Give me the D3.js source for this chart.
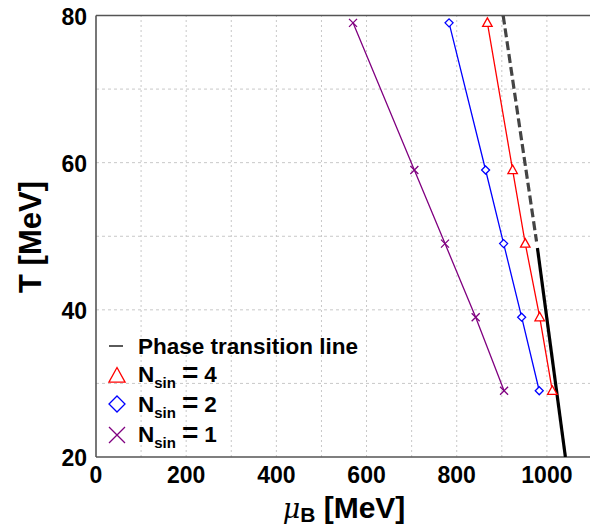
<!DOCTYPE html>
<html>
<head>
<meta charset="utf-8">
<script src="https://cdn.jsdelivr.net/npm/d3@7"></script>
<style>
    body { margin: 0; background: #fff; }
    svg { display: block; }
</style>
</head>
<body>
<svg id="chart" width="590" height="529"></svg>
<script>
'use strict';
// Freeze-out points per sine count (T in MeV, mu_B in MeV)
var tValues = [79, 59, 49, 39, 29];
var muNsin4 = [868, 924, 952, 984, 1012];
var muNsin2 = [783, 864, 904, 944, 983];
var muNsin1 = [570, 706, 774, 842, 905];
// Phase transition line: dashed upper piece, solid lower piece
var phaseDashedMu = [903, 977];
var phaseDashedT = [80, 49.3];
var phaseSolidMu = [979, 1041];
var phaseSolidT = [48.4, 20];
var xTicks = [0, 200, 400, 600, 800, 1000];
var yTicks = [20, 40, 60, 80];
var legendLabels = ['4', '2', '1'];

var svg = d3.select('#chart');
var x = d3.scaleLinear().domain([0, 1100]).range([96, 592]);
var y = d3.scaleLinear().domain([20, 80]).range([457, 15.5]);
var tickFont = '"Liberation Sans", Arial, sans-serif';

svg.append('defs').append('clipPath').attr('id', 'plot-clip')
    .append('rect')
    .attr('x', x(0)).attr('y', y(80))
    .attr('width', x(1100) - x(0)).attr('height', y(20) - y(80));

// Grid lines every 100 MeV / 10 MeV
var grid = svg.append('g').attr('class', 'grid');
grid.selectAll('line.gx').data(d3.range(100, 1100, 100)).enter().append('line')
    .attr('x1', function(d) { return x(d); }).attr('x2', function(d) { return x(d); })
    .attr('y1', y(20)).attr('y2', y(80))
    .style('stroke', '#c8c8c8').style('stroke-width', 1).style('stroke-dasharray', '2,3');
grid.selectAll('line.gy').data(d3.range(30, 80, 10)).enter().append('line')
    .attr('y1', function(d) { return y(d); }).attr('y2', function(d) { return y(d); })
    .attr('x1', x(0)).attr('x2', x(1100))
    .style('stroke', '#c8c8c8').style('stroke-width', 1).style('stroke-dasharray', '3,3');

// Frame (left, bottom, top)
var frame = svg.append('g').attr('class', 'frame');
frame.append('line').attr('x1', x(0)).attr('x2', x(0)).attr('y1', y(20)).attr('y2', y(80));
frame.append('line').attr('x1', x(0)).attr('x2', x(1100)).attr('y1', y(20)).attr('y2', y(20));
frame.append('line').attr('x1', x(0)).attr('x2', x(1100)).attr('y1', y(80)).attr('y2', y(80));
frame.selectAll('line').style('stroke', '#555').style('stroke-width', 1.6);

// Tick labels
svg.append('g').selectAll('text').data(xTicks).enter().append('text')
    .attr('x', function(d) { return x(d); })
    .attr('y', 483)
    .attr('text-anchor', 'middle')
    .style('font-family', tickFont).style('font-weight', 'bold').style('font-size', '23px')
    .text(function(d) { return d; });
svg.append('g').selectAll('text').data(yTicks).enter().append('text')
    .attr('x', 87)
    .attr('y', function(d) { return y(d) + 9; })
    .attr('text-anchor', 'end')
    .style('font-family', tickFont).style('font-weight', 'bold').style('font-size', '23px')
    .text(function(d) { return d; });

// Axis titles
var xTitle = svg.append('text')
    .attr('x', 344).attr('y', 518)
    .attr('text-anchor', 'middle')
    .style('font-family', tickFont).style('font-weight', 'bold').style('font-size', '30px');
xTitle.append('tspan').style('font-family', '"DejaVu Serif", serif').style('font-style', 'italic')
    .style('font-weight', 'normal').style('font-size', '27px').text('\u03bc');
xTitle.append('tspan').attr('dy', 4).style('font-size', '21px').text('B');
xTitle.append('tspan').attr('dy', -4).text(' [MeV]');

svg.append('text')
    .attr('transform', 'translate(41,237) rotate(-90)')
    .attr('text-anchor', 'middle')
    .style('font-family', tickFont).style('font-weight', 'bold').style('font-size', '31px')
    .text('T [MeV]');

var plot = svg.append('g').attr('clip-path', 'url(#plot-clip)');

// Phase transition line
var lineGen = d3.line().x(function(d) { return x(d[0]); }).y(function(d) { return y(d[1]); });
plot.append('path')
    .attr('d', lineGen(d3.zip(phaseDashedMu, phaseDashedT)))
    .style('fill', 'none').style('stroke', '#444').style('stroke-width', 3.2)
    .style('stroke-dasharray', '9,4');
plot.append('path')
    .attr('d', lineGen(d3.zip(phaseSolidMu, phaseSolidT)))
    .style('fill', 'none').style('stroke', '#000').style('stroke-width', 3.2);

// Marker shapes, drawn around (0,0)
var markers = {
    triangle: function(s) { return 'M0,' + (-s) + 'L' + (s * 0.95) + ',' + (s * 0.72) + 'L' + (-s * 0.95) + ',' + (s * 0.72) + 'Z'; },
    diamond: function(s) { return 'M0,' + (-s) + 'L' + s + ',0L0,' + s + 'L' + (-s) + ',0Z'; },
    cross: function(s) { return 'M' + (-s) + ',' + (-s) + 'L' + s + ',' + s + 'M' + s + ',' + (-s) + 'L' + (-s) + ',' + s; }
};

var series = [
    { mu: muNsin4, color: '#ff0000', marker: 'triangle', size: 5 },
    { mu: muNsin2, color: '#0000ff', marker: 'diamond', size: 4 },
    { mu: muNsin1, color: '#800080', marker: 'cross', size: 4 }
];

series.forEach(function(s) {
    var pts = d3.zip(s.mu, tValues);
    plot.append('path')
        .attr('d', lineGen(pts))
        .style('fill', 'none').style('stroke', s.color).style('stroke-width', 1.3);
    svg.append('g').selectAll('path').data(pts).enter().append('path')
        .attr('transform', function(d) { return 'translate(' + x(d[0]) + ',' + y(d[1]) + ')'; })
        .attr('d', markers[s.marker](s.size))
        .style('fill', s.marker === 'cross' ? 'none' : '#fff')
        .style('stroke', s.color).style('stroke-width', 1.3);
});

// Legend
var legend = svg.append('g').attr('class', 'legend');
var legendFont = function(sel) {
    return sel.style('font-family', tickFont).style('font-weight', 'bold').style('font-size', '22.5px');
};
legend.append('line').attr('x1', 109).attr('x2', 123).attr('y1', 346).attr('y2', 346)
    .style('stroke', '#000').style('stroke-width', 1.3);
legendFont(legend.append('text').attr('x', 138).attr('y', 354)).text('Phase transition line');

var rowY = [376, 404, 435];
var rowBase = [382, 412, 442];
series.forEach(function(s, i) {
    legend.append('path')
        .attr('transform', 'translate(117,' + rowY[i] + ')')
        .attr('d', markers[s.marker](s.marker === 'triangle' ? 8.5 : 8))
        .style('fill', 'none').style('stroke', s.color).style('stroke-width', 1.3);
    var t = legendFont(legend.append('text').attr('x', 138).attr('y', rowBase[i]));
    t.append('tspan').text('N');
    t.append('tspan').attr('dy', 6).style('font-size', '15px').text('sin');
    t.append('tspan').attr('dy', -6).attr('dx', 6).style('font-size', '28px').text('=');
    t.append('tspan').attr('dx', 6).text(legendLabels[i]);
});
</script>
</body>
</html>
